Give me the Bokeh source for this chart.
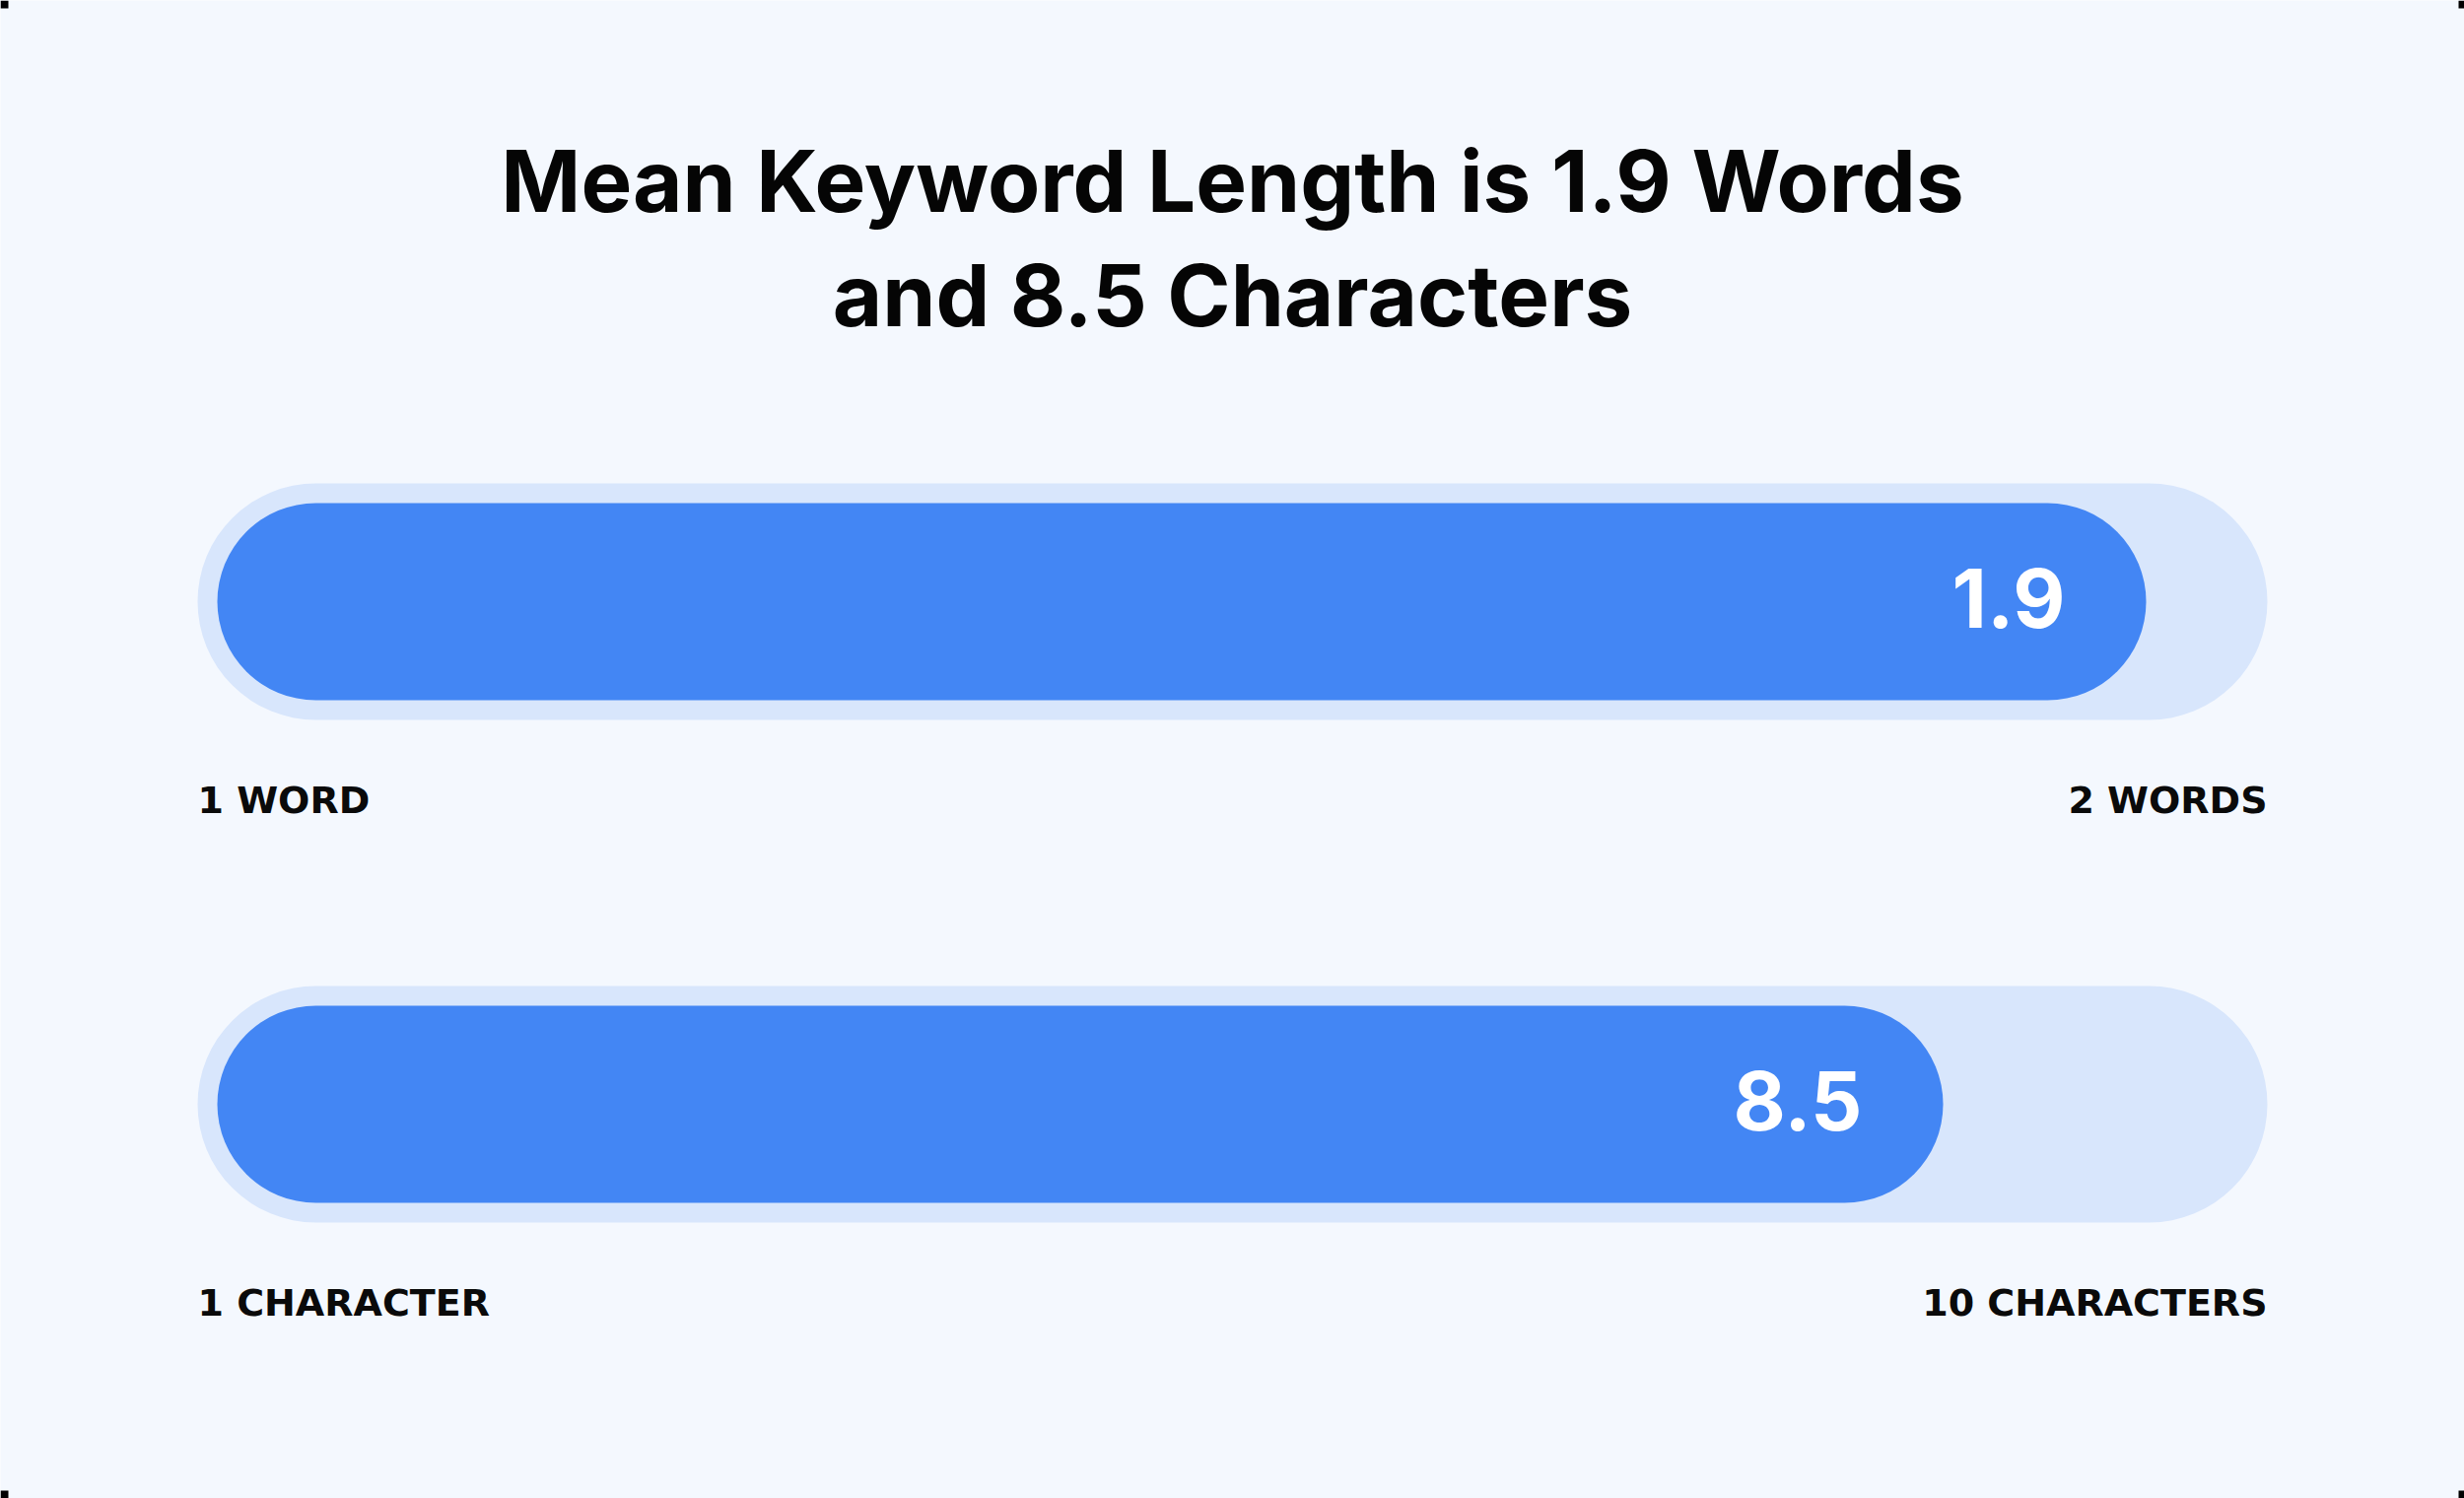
from bokeh.plotting import figure
from bokeh.models import Range1d, ColumnDataSource
from bokeh.embed import file_html
from bokeh.resources import INLINE
from bokeh.core.properties import value

# ---- data ----
title_lines = ["Mean Keyword Length is 1.9 Words", "and 8.5 Characters"]
metrics = ["words", "characters"]
values = [1.9, 8.5]
scale_max = [2, 10]
value_labels = ["1.9", "8.5"]
min_labels = ["1 WORD", "1 CHARACTER"]
max_labels = ["2 WORDS", "10 CHARACTERS"]

# ---- layout / style ----
W, H = 2500, 1520
BG = "#F4F8FE"
TRACK = "#D8E6FC"
BLUE = "#4386F4"
INNER_L, INNER_R = 220, 2280      # pixel span of 0..max on each scale
PAD = 20                          # track margin around the bar
ROW_Y = [610, 1120]
BAR_H = 200
TITLE_Y = [217, 333]
TITLE_FS, VAL_FS, LAB_FS = 87, 82, 38
SHIFT = 0.39                      # renderer baseline correction (em)

def px_range(mx):
    per_px = mx / (INNER_R - INNER_L)
    return Range1d(-INNER_L * per_px, (W - INNER_L) * per_px)

p = figure(width=W, height=H, output_backend="svg", toolbar_location=None,
           min_border=0, x_range=Range1d(0, W), y_range=Range1d(H, 0))
p.axis.visible = False
p.grid.visible = False
p.outline_line_color = None
p.background_fill_color = BG
p.border_fill_color = BG

for i, m in enumerate(metrics):
    rn = f"r{i}"
    p.extra_x_ranges[rn] = px_range(scale_max[i])
    pad_d = PAD * scale_max[i] / (INNER_R - INNER_L)
    yc = ROW_Y[i]
    # track
    p.hbar(y=[yc], height=BAR_H + 2 * PAD, left=[-pad_d], right=[scale_max[i] + pad_d],
           fill_color=TRACK, line_color=None, border_radius=int((BAR_H + 2 * PAD) // 2),
           x_range_name=rn)
    # value bar
    src = ColumnDataSource(dict(y=[yc], v=[values[i]], lab=[value_labels[i]]))
    p.hbar(y="y", height=BAR_H, left=0, right="v", source=src,
           fill_color=BLUE, line_color=None, border_radius=int(BAR_H // 2), x_range_name=rn)
    p.text(x="v", y=yc + 28 - SHIFT * VAL_FS, text="lab", source=src, x_offset=-82,
           text_align="right", text_baseline="alphabetic", text_color="white",
           text_font=value("Inter"), text_font_style="bold", text_font_size=f"{VAL_FS}px",
           x_range_name=rn)
    # scale end labels
    ly = yc + 216 - SHIFT * LAB_FS
    p.text(x=[-pad_d], y=[ly], text=[min_labels[i]], text_align="left",
           text_baseline="alphabetic", text_color="#0A0A0A",
           text_font=value("DejaVu Sans"), text_font_style="bold", text_font_size=f"{LAB_FS}px",
           x_range_name=rn)
    p.text(x=[scale_max[i] + pad_d], y=[ly], text=[max_labels[i]], text_align="right",
           text_baseline="alphabetic", text_color="#0A0A0A",
           text_font=value("DejaVu Sans"), text_font_style="bold", text_font_size=f"{LAB_FS}px",
           x_range_name=rn)

# title
p.text(x=[W / 2] * len(title_lines), y=[t - SHIFT * TITLE_FS for t in TITLE_Y],
       text=title_lines, text_align="center",
       text_baseline="alphabetic", text_color="#050505",
       text_font=value("Inter"), text_font_style="bold", text_font_size=f"{TITLE_FS}px")

# corner marks
p.rect(x=[4, 4, W - 3, W - 3], y=[4, H - 4, 4, H - 4], width=[8, 8, 6, 6], height=8,
       fill_color="black", line_color=None)

open("out.html", "w").write(file_html(p, INLINE))
